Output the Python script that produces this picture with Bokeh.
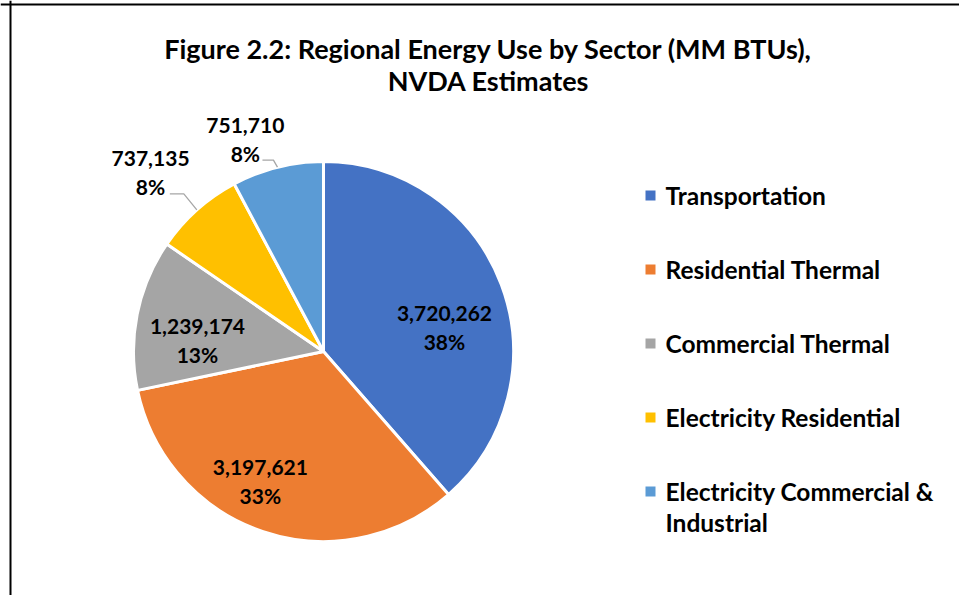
import math
from bokeh.plotting import figure
from bokeh.models import Range1d, Span
from bokeh.core.properties import value
from bokeh.embed import file_html
from bokeh.resources import INLINE

# ---- data ----
categories = ["Transportation", "Residential Thermal", "Commercial Thermal",
              "Electricity Residential", "Electricity Commercial & Industrial"]
energy_mmbtu = [3720262, 3197621, 1239174, 737135, 751710]
pct_labels = ["38%", "33%", "13%", "8%", "8%"]
legend_lines = [["Transportation"], ["Residential Thermal"], ["Commercial Thermal"],
                ["Electricity Residential"], ["Electricity Commercial &", "Industrial"]]
title_lines = ["Figure 2.2: Regional Energy Use by Sector (MM BTUs),", "NVDA Estimates"]

# ---- style ----
colors = ["#4472C4", "#ED7D31", "#A5A5A5", "#FFC000", "#5B9BD5"]
FONT = value("Lato")
W, H = 959, 595
def dy(screen_y):  # picture y -> data y
    return H - screen_y
def dx(screen_x):
    return screen_x

cx, cy, R = dx(323), dy(351), 190
label_radius = [0.649, 0.760, 0.666, 1.31, 1.19]
label_nudge = [-9.4, -7.4, 6.3, 2.2, 6.2]  # degrees
outside = [False, False, False, True, True]
leader_elbow = [None, None, None, (-13, 16), (-4, 7)]
leader_tail = [None, None, None, -14, -11]

p = figure(width=W, height=H, output_backend="svg", toolbar_location=None,
           x_range=Range1d(0, W), y_range=Range1d(0, H), min_border=0,
           outline_line_color=None, background_fill_color="white")
p.axis.visible = False
p.grid.visible = False

# frame lines
p.add_layout(Span(location=dx(10), dimension="height", line_color="black", line_width=2))
p.add_layout(Span(location=dy(4), dimension="width", line_color="black", line_width=2))

total = float(sum(energy_mmbtu))
cum = 0.0
starts, ends, mids = [], [], []
for v in energy_mmbtu:
    a0 = math.pi / 2 - cum / total * 2 * math.pi
    cum += v
    a1 = math.pi / 2 - cum / total * 2 * math.pi
    starts.append(a0); ends.append(a1); mids.append((a0 + a1) / 2)

p.wedge(x=[cx] * 5, y=[cy] * 5, radius=R, start_angle=starts, end_angle=ends,
        direction="clock", fill_color=colors, line_color="white", line_width=3)

# data labels
for i, v in enumerate(energy_mmbtu):
    ang = mids[i] + math.radians(label_nudge[i])
    lx = cx + R * label_radius[i] * math.cos(ang)
    ly = cy + R * label_radius[i] * math.sin(ang)
    p.text(x=[lx], y=[ly + 14], text=[f"{v:,}"], text_font=FONT, text_font_style="bold",
           text_font_size="21px", text_align="center", text_baseline="middle", text_color="#000000")
    p.text(x=[lx], y=[ly - 14], text=[pct_labels[i]], text_font=FONT, text_font_style="bold",
           text_font_size="21px", text_align="center", text_baseline="middle", text_color="#000000")
    if outside[i]:
        ex = cx + R * math.cos(mids[i]); ey = cy + R * math.sin(mids[i])
        bx = ex + leader_elbow[i][0]; by = ey + leader_elbow[i][1]
        tx = bx + leader_tail[i]
        p.line(x=[ex, bx, tx], y=[ey, by, by], line_color="#A6A6A6", line_width=1.3)

# title
for j, t in enumerate(title_lines):
    p.text(x=[dx(488)], y=[dy(48 + 32 * j)], text=[t], text_font=FONT, text_font_style="bold",
           text_font_size="27px", text_align="center", text_baseline="middle", text_color="#000000")

# legend
for i, lines in enumerate(legend_lines):
    yc = dy(195 + 74 * i)
    p.rect(x=[dx(650)], y=[yc], width=10, height=10, fill_color=colors[i], line_color=None)
    for k, ln in enumerate(lines):
        p.text(x=[dx(665)], y=[yc - 31 * k], text=[ln], text_font=FONT, text_font_style="bold",
               text_font_size="24.5px", text_align="left", text_baseline="middle", text_color="#000000")

open("out.html", "w").write(file_html(p, INLINE))
